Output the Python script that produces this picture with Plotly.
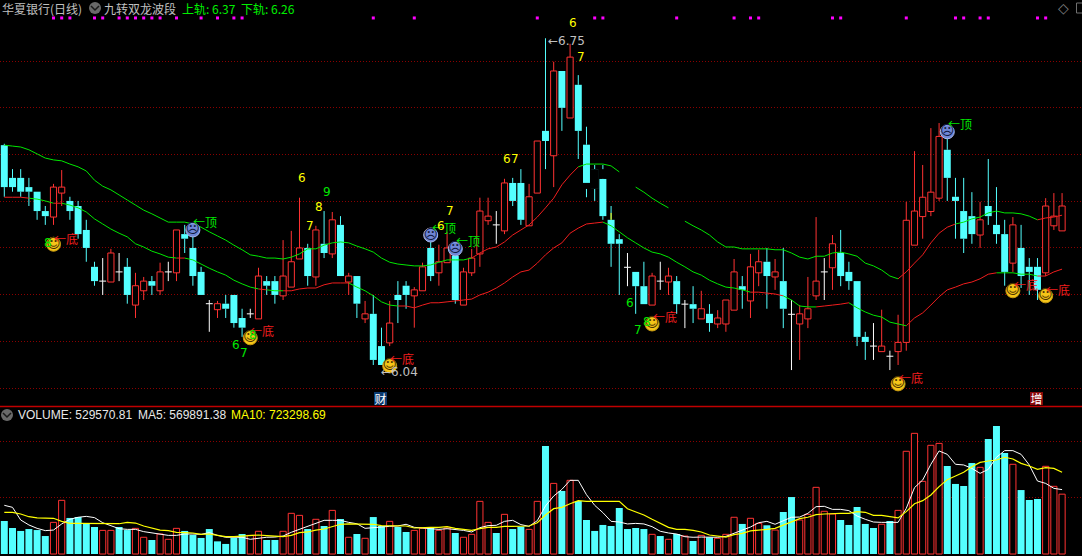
import plotly.graph_objects as go

# ---------- data ----------
opens = [6.517,6.446,6.446,6.426,6.416,6.374,6.361,6.413,6.396,6.385,
         6.333,6.253,6.222,6.220,6.242,6.253,6.170,6.201,6.222,6.201,
         6.242,6.240,6.324,6.294,6.242,6.173,6.160,6.173,6.192,6.142,
         6.151,6.140,6.222,6.222,6.190,6.209,6.270,6.294,6.231,6.303,
         6.281,6.344,6.220,6.233,6.140,6.151,6.081,6.088,6.192,6.212,
         6.190,6.201,6.294,6.240,6.262,6.277,6.170,6.240,6.281,6.353,
         6.344,6.331,6.435,6.435,6.342,6.413,6.548,6.494,6.678,6.576,
         6.648,6.518,6.465,6.444,6.355,6.313,6.252,6.242,6.211,6.170,
         6.222,6.220,6.222,6.172,6.172,6.140,6.151,6.129,6.129,6.159,
         6.211,6.179,6.240,6.264,6.231,6.222,6.150,6.129,6.140,6.190,
         6.242,6.251,6.283,6.242,6.222,6.101,6.081,6.069,6.059,6.069,
         6.089,6.300,6.362,6.373,6.402,6.507,6.405,6.374,6.363,6.322,
         6.385,6.344,6.324,6.261,6.294,6.253,6.253,6.240,6.342,6.331]
highs = [6.520,6.465,6.465,6.446,6.416,6.385,6.433,6.463,6.405,6.396,
         6.355,6.264,6.272,6.292,6.283,6.272,6.240,6.231,6.233,6.262,
         6.264,6.333,6.344,6.318,6.253,6.181,6.179,6.192,6.192,6.162,
         6.162,6.251,6.233,6.233,6.311,6.331,6.403,6.303,6.342,6.374,
         6.372,6.363,6.240,6.233,6.179,6.192,6.121,6.179,6.222,6.222,
         6.209,6.262,6.307,6.301,6.329,6.301,6.251,6.292,6.403,6.403,
         6.374,6.444,6.446,6.465,6.433,6.526,6.749,6.698,6.678,6.737,
         6.669,6.557,6.474,6.474,6.385,6.324,6.283,6.242,6.264,6.240,
         6.264,6.251,6.233,6.181,6.211,6.201,6.172,6.159,6.181,6.270,
         6.233,6.281,6.290,6.294,6.270,6.294,6.181,6.170,6.231,6.361,
         6.272,6.322,6.333,6.264,6.222,6.112,6.131,6.160,6.071,6.149,
         6.394,6.504,6.474,6.554,6.565,6.561,6.446,6.446,6.415,6.394,
         6.487,6.426,6.355,6.361,6.344,6.272,6.272,6.402,6.413,6.413]
lows = [6.405,6.416,6.405,6.385,6.355,6.344,6.344,6.385,6.355,6.314,
        6.264,6.212,6.192,6.220,6.222,6.173,6.142,6.181,6.192,6.192,
        6.222,6.222,6.283,6.212,6.192,6.112,6.142,6.142,6.121,6.101,
        6.142,6.140,6.192,6.173,6.181,6.209,6.270,6.212,6.212,6.272,
        6.272,6.233,6.192,6.142,6.131,6.040,6.040,6.081,6.131,6.162,
        6.121,6.201,6.222,6.212,6.262,6.173,6.170,6.233,6.253,6.344,
        6.303,6.324,6.385,6.344,6.342,6.413,6.465,6.426,6.548,6.576,
        6.487,6.404,6.396,6.355,6.253,6.192,6.211,6.151,6.172,6.170,
        6.203,6.192,6.151,6.120,6.131,6.140,6.112,6.120,6.112,6.159,
        6.162,6.142,6.211,6.162,6.203,6.120,6.029,6.051,6.120,6.181,
        6.181,6.203,6.211,6.203,6.081,6.051,6.051,6.069,6.029,6.040,
        6.071,6.300,6.314,6.363,6.396,6.396,6.314,6.283,6.303,6.294,
        6.344,6.303,6.212,6.242,6.207,6.192,6.181,6.233,6.333,6.331]
closes = [6.426,6.426,6.416,6.416,6.374,6.363,6.426,6.426,6.374,6.324,
          6.294,6.222,6.222,6.283,6.242,6.192,6.212,6.222,6.212,6.242,
          6.242,6.333,6.314,6.233,6.192,6.173,6.173,6.162,6.131,6.121,
          6.151,6.233,6.212,6.192,6.233,6.264,6.294,6.233,6.333,6.283,
          6.355,6.233,6.233,6.173,6.151,6.051,6.040,6.131,6.181,6.192,
          6.203,6.253,6.233,6.264,6.294,6.181,6.242,6.272,6.374,6.363,
          6.344,6.435,6.396,6.355,6.405,6.526,6.526,6.678,6.598,6.708,
          6.548,6.435,6.422,6.363,6.303,6.303,6.252,6.211,6.172,6.233,
          6.222,6.233,6.172,6.172,6.162,6.162,6.131,6.142,6.181,6.242,
          6.203,6.253,6.264,6.233,6.242,6.162,6.150,6.151,6.162,6.222,
          6.242,6.303,6.233,6.222,6.101,6.090,6.081,6.081,6.059,6.089,
          6.354,6.374,6.404,6.415,6.536,6.446,6.396,6.314,6.324,6.355,
          6.363,6.324,6.242,6.344,6.233,6.242,6.203,6.385,6.363,6.385]

upper_band = [6.517,6.515,6.513,6.507,6.498,6.489,6.485,6.483,6.476,6.470,
              6.461,6.441,6.428,6.420,6.409,6.398,6.387,6.376,6.368,6.359,
              6.350,6.350,6.350,6.346,6.339,6.329,6.320,6.311,6.300,6.290,
              6.279,6.276,6.272,6.272,6.270,6.274,6.281,6.292,6.292,6.300,
              6.305,6.307,6.305,6.298,6.292,6.285,6.272,6.263,6.259,6.257,
              6.255,6.255,6.257,6.263,6.268,6.268,6.268,6.272,6.283,6.292,
              6.296,6.307,6.322,6.333,6.344,6.361,6.381,6.402,6.431,6.452,
              6.470,6.476,6.476,6.476,6.472,6.459,None,6.426,6.415,6.402,
              6.391,6.381,None,6.352,6.342,6.333,6.322,6.307,6.296,6.296,
              6.292,6.292,6.292,6.292,6.290,6.290,6.283,6.274,6.270,6.276,
              6.276,6.283,6.285,6.281,6.276,6.261,6.255,6.246,6.233,6.227,
              6.242,6.261,6.279,6.305,6.326,6.339,6.346,6.350,6.357,6.361,
              6.370,6.374,6.370,6.370,6.368,6.363,6.355,6.359,6.361,6.365]
lower_band = [6.404,6.404,6.404,6.402,6.400,6.396,6.391,6.391,6.387,6.381,
              6.372,6.357,6.346,6.335,6.326,6.318,6.303,6.296,6.287,6.281,
              6.274,6.272,6.272,6.268,6.259,6.250,6.242,6.235,6.224,6.216,
              6.209,6.205,6.203,6.201,6.201,6.201,6.205,6.207,6.207,6.214,
              6.218,6.218,6.218,6.209,6.201,6.190,6.177,6.170,6.168,6.168,
              6.164,6.170,6.175,6.175,6.177,6.179,6.181,6.183,6.192,6.198,
              6.207,6.218,6.231,6.242,6.246,6.261,6.279,6.294,6.305,6.326,
              6.337,6.346,6.348,6.350,6.342,6.329,6.316,6.305,6.294,6.285,
              6.281,6.274,6.263,6.253,6.242,6.235,6.224,6.216,6.209,6.207,
              6.203,6.198,6.198,6.196,6.194,6.190,6.181,6.168,6.166,6.166,
              6.168,6.170,6.172,6.175,6.164,6.155,6.148,6.144,6.133,6.129,
              6.125,6.142,6.153,6.170,6.188,6.203,6.209,6.216,6.220,6.227,
              6.237,6.240,6.240,6.240,6.237,6.237,6.233,6.233,6.242,6.248]
upper_red_runs = [(57,70),(109,116),(126,129)]
lower_red_runs = [(0,3),(6,7),(21,22),(31,32),(34,42),(48,73),(91,95),(99,103),(110,121),(126,129)]

# stretch of the price pane where the original wipes the candle out in black
hidden_i = [71,72,73]
hidden_hi = [6.435,6.465,6.465]
hidden_lo = [6.422,6.422,6.444]
# small yellow stub on top of candle 74
stub_i = 74
stub_hi = 6.370
stub_lo = 6.355

volume_k = [292,230,204,221,212,159,280,475,319,327,
            274,239,209,209,239,212,227,148,124,177,
            130,227,204,168,142,221,112,89,142,177,
            165,201,124,124,201,360,342,221,307,248,
            386,310,148,177,139,327,248,289,239,195,
            209,227,236,209,230,186,148,174,466,280,
            186,351,221,242,218,466,956,625,558,652,
            469,301,204,257,248,407,221,230,221,174,
            159,130,177,159,115,165,148,139,174,325,
            266,316,271,254,212,372,504,301,351,590,
            378,354,301,257,416,266,230,263,292,386,
            909,1068,643,962,979,779,620,602,805,767,
            1018,1133,894,794,566,478,487,776,599,529.57]
volume_up = [6,7,12,13,16,17,19,20,21,30,31,34,35,36,38,40,42,44,47,50,51,53,54,56,57,58,59,61,64,65,
             67,69,79,81,83,85,87,88,89,91,92,94,97,98,99,100,101,107,109,110,111,112,113,114,119,123,127,128,129]
vol_ma5_k = [431,413,301,257,227,207,212,266,307,325,
             333,322,277,251,224,218,218,198,189,177,
             165,165,177,177,174,189,165,148,148,148,
             130,139,148,150,159,192,218,248,277,298,
             298,298,280,268,227,230,239,245,248,263,
             236,230,224,218,224,218,209,195,233,251,
             254,289,298,260,245,295,425,513,572,652,
             652,525,431,366,289,283,266,271,266,242,
             201,186,177,153,148,150,150,148,156,183,
             207,239,277,289,263,295,325,327,360,419,
             422,395,395,384,336,307,283,280,280,280,
             404,587,655,794,912,882,794,788,758,714,
             749,856,915,915,882,788,646,625,581,569.89]
vol_ma10_k = [369,369,354,330,319,316,316,289,271,271,
              271,271,271,268,268,280,274,248,230,212,
              207,192,189,186,174,177,165,153,153,156,
              165,168,162,159,153,165,189,195,212,221,
              245,263,266,266,263,263,251,251,248,248,
              230,236,236,236,242,227,218,209,224,236,
              236,245,245,245,248,277,345,401,413,445,
              472,466,466,466,466,466,401,375,345,307,
              271,236,218,218,209,195,168,159,150,171,
              183,204,209,218,227,257,286,313,325,348,
              354,360,360,360,375,369,342,342,333,319,
              375,445,472,522,596,658,690,723,773,811,
              823,832,856,841,802,779,749,764,758,723.30]

signal_dots_i = [6,7,8,11,12,14,15,16,17,18,19,21,24,26,28,29,45,50,65,72,73,82,89,91,92,101,102,110,116,117,119,120,126,127]
signal_dots_p = 6.793
smile_i = [6,30,47,79,109,123,127]
smile_p = [6.302,6.099,6.038,6.129,5.999,6.201,6.190]
sad_i = [23,52,55,115]
sad_p = [6.333,6.322,6.292,6.546]
grid_prices = [6.699,6.598,6.496,6.395,6.294,6.192,6.091,5.990]
grid_volumes = [500,1000]

# ---------- styling ----------
W, H = 1082, 556
RED, CYAN, GREEN, YEL = "#ff3232", "#54ffff", "#00e800", "#ffff00"
GRID = "#8a0000"
TXT = "#c0c0c0"
FONT = "Noto Sans CJK SC"
n = len(opens)
xs = list(range(n))

fig = go.Figure()
Y1 = "y"; Y2 = "y2"

# candle bodies
up = [i for i in xs if closes[i] > opens[i]]
dn = [i for i in xs if closes[i] < opens[i]]
doji = [i for i in xs if closes[i] == opens[i]]
fig.add_trace(go.Bar(x=dn, y=[opens[i]-closes[i] for i in dn], base=[closes[i] for i in dn], width=0.85,
                     marker=dict(color=CYAN, line=dict(width=0)), yaxis=Y1))
fig.add_trace(go.Bar(x=up, y=[closes[i]-opens[i] for i in up], base=[opens[i] for i in up], width=0.75,
                     marker=dict(color="#000000", line=dict(color=RED, width=1)), yaxis=Y1))

# wicks, split around the bodies
def wick_trace(idx, color):
    wx, wy = [], []
    for i in idx:
        top, bot = max(opens[i], closes[i]), min(opens[i], closes[i])
        wx += [i, i, None, i, i, None]
        wy += [highs[i], top, None, bot, lows[i], None]
    fig.add_trace(go.Scatter(x=wx, y=wy, mode="lines", line=dict(color=color, width=1), yaxis=Y1))
wick_trace(up, RED)
wick_trace(dn, CYAN)
wick_trace(doji, "#ffffff")
dx, dy = [], []
for i in doji:
    dx += [i-0.42, i+0.42, None]
    dy += [opens[i], opens[i], None]
fig.add_trace(go.Scatter(x=dx, y=dy, mode="lines", line=dict(color="#ffffff", width=1), yaxis=Y1))

# wiped stretch and yellow stub
mx, my = [], []
for i, a, b in zip(hidden_i, hidden_hi, hidden_lo):
    mx += [i, i, None]; my += [a, b, None]
fig.add_trace(go.Scatter(x=mx, y=my, mode="lines", line=dict(color="#000000", width=8), yaxis=Y1))
fig.add_trace(go.Scatter(x=[stub_i, stub_i], y=[stub_hi, stub_lo], mode="lines", line=dict(color=YEL, width=1), yaxis=Y1))

# bands
def band(values, runs):
    rx, ry, gx, gy = [], [], [], []
    for i in range(n-1):
        a, b = values[i], values[i+1]
        if a is None or b is None:
            continue
        red = any(s <= i < e for s, e in runs)
        (rx if red else gx).extend([i, i+1, None])
        (ry if red else gy).extend([a, b, None])
    fig.add_trace(go.Scatter(x=gx, y=gy, mode="lines", line=dict(color=GREEN, width=1), yaxis=Y1))
    fig.add_trace(go.Scatter(x=rx, y=ry, mode="lines", line=dict(color="#f01e1e", width=1), yaxis=Y1))
band(upper_band, upper_red_runs)
band(lower_band, lower_red_runs)

# signal dots on top
fig.add_trace(go.Scatter(x=signal_dots_i, y=[signal_dots_p]*len(signal_dots_i), mode="markers",
                         marker=dict(symbol="square", size=3, color="#ff00ff"), yaxis=Y1))

# faces
fig.add_trace(go.Scatter(x=smile_i, y=smile_p, mode="markers+text", text=["☺"]*len(smile_i),
                         textposition="middle center", textfont=dict(family="DejaVu Sans", size=14, color="#4a3000"),
                         marker=dict(size=14, color="#f5c518", line=dict(color="#c89a10", width=1)), yaxis=Y1))
fig.add_trace(go.Scatter(x=sad_i, y=sad_p, mode="markers+text", text=["☹"]*len(sad_i),
                         textposition="middle center", textfont=dict(family="DejaVu Sans", size=14, color="#101840"),
                         marker=dict(size=14, color="#6f86d6", line=dict(color="#a9b8ee", width=1)), yaxis=Y1))

# volume
vup = [i for i in xs if i in volume_up]
vdn = [i for i in xs if i not in volume_up]
fig.add_trace(go.Bar(x=vdn, y=[volume_k[i] for i in vdn], width=0.85,
                     marker=dict(color=CYAN, line=dict(width=0)), yaxis=Y2))
fig.add_trace(go.Bar(x=vup, y=[volume_k[i] for i in vup], width=0.75,
                     marker=dict(color="#000000", line=dict(color=RED, width=1)), yaxis=Y2))
fig.add_trace(go.Scatter(x=xs, y=vol_ma5_k, mode="lines", line=dict(color="#ffffff", width=1), yaxis=Y2))
fig.add_trace(go.Scatter(x=xs, y=vol_ma10_k, mode="lines", line=dict(color=YEL, width=1.2), yaxis=Y2))

# ---------- text ----------
ann = []
def label(x, y, text, color=TXT, size=12, anchor="left", family=FONT, bg=None):
    d = dict(x=x/W, y=1-y/H, xref="paper", yref="paper", text=text, showarrow=False,
             xanchor=anchor, yanchor="middle", font=dict(family=family, size=size, color=color),
             borderpad=0, borderwidth=0)
    if bg:
        d.update(bgcolor=bg, width=13, height=13, align="center", valign="middle")
    ann.append(d)

label(2, 8, "华夏银行(日线)")
label(104, 8, "九转双龙波段")
label(182, 8, "上轨: 6.37", "#00f000")
label(241, 8, "下轨: 6.26", "#00f000")
label(18, 415, "VOLUME: 529570.81", "#e8e8e8", 12, family="Liberation Sans")
label(138, 415, "MA5: 569891.38", "#e8e8e8", 12, family="Liberation Sans")
label(231, 415, "MA10: 723298.69", YEL, 12, family="Liberation Sans")
label(1063, 8, "◇", "#808080", 14, "center", "DejaVu Sans")

for x, y in [(54,238),(250,330),(390,358),(653,316),(899,377),(1014,284),(1046,289)]:
    label(x, y, "←底", "#f01e1e")
for x, y in [(193,222),(432,227),(456,241),(948,124)]:
    label(x, y, "←顶", GREEN)

for x, y, t, c in [(302,178,"6",YEL),(327,192,"9",GREEN),(319,207,"8",YEL),(310,226,"7",YEL),
                   (441,226,"6",YEL),(450,211,"7",YEL),(507,159,"6",YEL),(515,159,"7",YEL),
                   (573,23,"6",YEL),(581,57,"7",YEL),(630,303,"6",GREEN),(638,330,"7",GREEN),
                   (647,322,"8",GREEN),(48,243,"8",GREEN),(253,335,"8",GREEN),
                   (236,345,"6",GREEN),(244,353,"7",GREEN)]:
    label(x, y, t, c, 12, "center", "DejaVu Sans")

label(548, 41, "←6.75", TXT, 12, family="DejaVu Sans")
label(381, 372, "←6.04", TXT, 12, family="DejaVu Sans")
label(380.5, 398.5, "财", "#ffffff", 12, "center", FONT, "#0a3a70")
label(1036.5, 398.5, "增", "#ffffff", 12, "center", FONT, "#8a0a0a")

def chevron(cx, cy):
    px = lambda x: x/W
    py = lambda y: 1-y/H
    return dict(type="path", xref="paper", yref="paper",
                path=f"M {px(cx-4)} {py(cy-2)} L {px(cx)} {py(cy+2)} L {px(cx+4)} {py(cy-2)}",
                line=dict(color="#1a1a1a", width=1.5))

shapes = [
    dict(type="line", xref="paper", yref="paper", x0=0, x1=1, y0=1-406.5/H, y1=1-406.5/H,
         line=dict(color="#c00000", width=1.5)),
    dict(type="circle", xref="paper", yref="paper", x0=89/W, x1=101/W, y0=1-14/H, y1=1-2/H,
         fillcolor="#6a6a6a", line=dict(width=0)),
    dict(type="circle", xref="paper", yref="paper", x0=1/W, x1=13/W, y0=1-421/H, y1=1-409/H,
         fillcolor="#6a6a6a", line=dict(width=0)),
    chevron(95, 8), chevron(7, 415),
    dict(type="rect", xref="paper", yref="paper", x0=1076.5/W, x1=1090/W, y0=1-13/H, y1=1-3/H,
         line=dict(color="#707070", width=1)),
]

fig.update_layout(
    width=W, height=H, margin=dict(l=0, r=0, t=0, b=0, pad=0),
    paper_bgcolor="#000000", plot_bgcolor="#000000", showlegend=False,
    barmode="overlay", hovermode=False, annotations=ann, shapes=shapes,
    xaxis=dict(range=[-0.524, 131.43], visible=False, fixedrange=True),
    yaxis=dict(domain=[1-406/H, 1], range=[5.951, 6.832], tickmode="array", tickvals=grid_prices,
               showticklabels=False, ticks="", showgrid=True, gridcolor=GRID, griddash="1px,2px",
               gridwidth=1, zeroline=False, showline=False, fixedrange=True),
    yaxis2=dict(domain=[0, 1-407/H], range=[-17.7, 1301], tickmode="array", tickvals=grid_volumes,
                showticklabels=False, ticks="", showgrid=True, gridcolor=GRID, griddash="1px,2px",
                gridwidth=1, zeroline=False, showline=False, fixedrange=True),
)

fig.write_html("out.html", config=dict(displayModeBar=False, staticPlot=True),
               post_script="document.body.style.margin='0';document.body.style.overflow='hidden';document.body.style.background='#000';")
